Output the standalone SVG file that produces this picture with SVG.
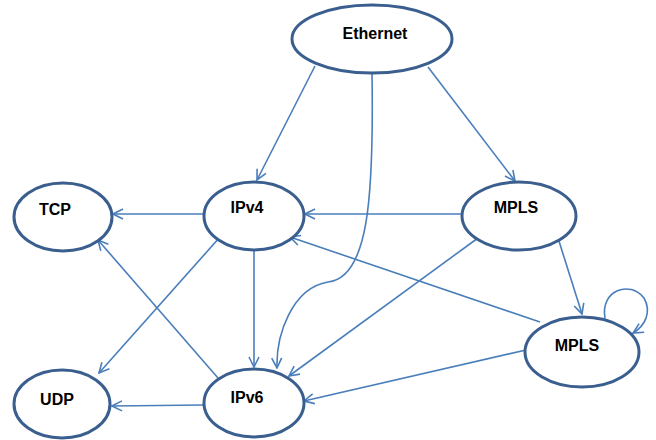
<svg xmlns="http://www.w3.org/2000/svg" width="656" height="440" viewBox="0 0 656 440">
  <defs>
    <marker id="arr" viewBox="0 0 12 12" refX="11" refY="6" markerWidth="12" markerHeight="12" markerUnits="userSpaceOnUse" orient="auto">
      <path d="M1,1 L11,6 L1,11" fill="none" stroke="#4a7ebb" stroke-width="1.6"/>
    </marker>
  </defs>
  <style>
    .node ellipse { fill: #ffffff; stroke: #3a5f8f; stroke-width: 3; }
    .node text { font-family: "Liberation Sans", Arial, sans-serif; font-weight: bold; font-size: 16px; fill: #000; text-anchor: middle; }
    .edges path { fill: none; stroke: #4a7ebb; stroke-width: 1.6; marker-end: url(#arr); }
  </style>
  <rect width="656" height="440" fill="#ffffff"/>

  <g class="edges" id="connectors">
    <path d="M315,66 L257,180"/>
    <path d="M428,67 L515,181"/>
    <path d="M372,73 C374,200 368,278 328,282 C292,288 276,335 277,368"/>
    <path d="M204,214 L113,214"/>
    <path d="M462,214 L305,214"/>
    <path d="M540,322 L290,237"/>
    <path d="M220,237 L99,373"/>
    <path d="M254,251 L254,367"/>
    <path d="M218,378 L98,240"/>
    <path d="M478,238 L289,376"/>
    <path d="M526,350 L304,401"/>
    <path d="M204,405 L112,406"/>
    <path d="M558,238 L582,314"/>
    <path d="M605,318 C600,290 630,280 644,298 C652,312 645,326 633,333"/>
  </g>

  <g class="node" id="ethernet">
    <ellipse cx="372" cy="39" rx="80" ry="34"/>
    <text x="375" y="39">Ethernet</text>
  </g>
  <g class="node" id="tcp">
    <ellipse cx="63" cy="217" rx="49" ry="34"/>
    <text x="55" y="215">TCP</text>
  </g>
  <g class="node" id="ipv4">
    <ellipse cx="254" cy="216" rx="50" ry="34"/>
    <text x="247" y="213">IPv4</text>
  </g>
  <g class="node" id="mpls1">
    <ellipse cx="519" cy="216" rx="57" ry="34"/>
    <text x="516" y="213">MPLS</text>
  </g>
  <g class="node" id="mpls2">
    <ellipse cx="582" cy="352" rx="57" ry="35"/>
    <text x="577" y="351">MPLS</text>
  </g>
  <g class="node" id="udp">
    <ellipse cx="62" cy="404" rx="48" ry="34"/>
    <text x="57" y="405">UDP</text>
  </g>
  <g class="node" id="ipv6">
    <ellipse cx="254" cy="403" rx="50" ry="34"/>
    <text x="247" y="403">IPv6</text>
  </g>
</svg>
